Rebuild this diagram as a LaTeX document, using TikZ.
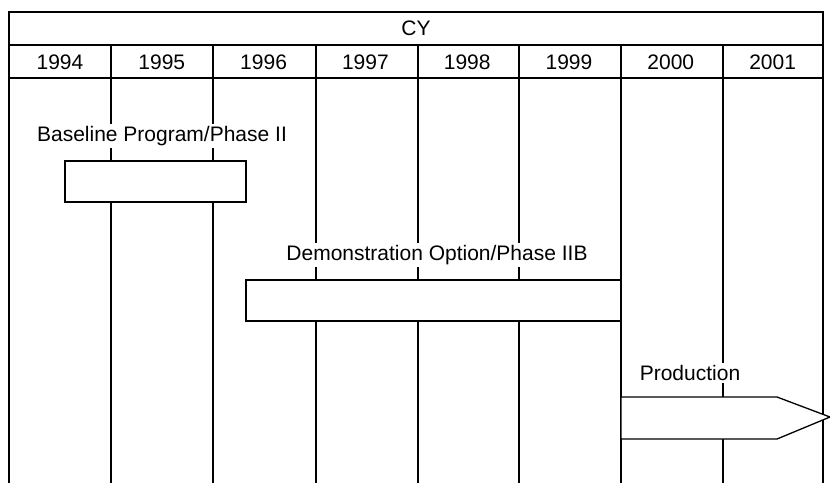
\documentclass[tikz,border=0pt]{standalone}
\usepackage{fontspec}
\setmainfont{Liberation Sans}
\begin{document}
\begin{tikzpicture}[x=1pt,y=-1pt,
  txt/.style={font=\fontsize{21}{24}\selectfont, inner sep=1pt},
  lbl/.style={txt, fill=white, inner sep=2pt},
  grid/.style={line width=1.2pt},
  frame/.style={line width=2pt},
  bar/.style={draw, fill=white, line width=1.3pt}]
\useasboundingbox (0,0) rectangle (830,483);
% vertical lines
\foreach \x in {111,213,316,418,519,621,723} \draw[grid] (\x,45) -- (\x,483);
\draw[frame] (9,483) -- (9,12) -- (823,12) -- (823,483);
\draw[frame] (9,45) -- (823,45);
\draw[frame] (9,78) -- (823,78);
% header texts
\node[txt] (cy) at (416,28.5) {CY};
\foreach \y [count=\i from 0] in {1994,1995,1996,1997,1998,1999,2000,2001}
  \node[txt] (y\y) at (60+\i*101.8,62) {\y};
% bars
\node[lbl] (l1) at (162,136) {Baseline Program/Phase II};
\draw[bar] (65,161) rectangle (246,202);
\node[lbl] (l2) at (437,255) {Demonstration Option/Phase IIB};
\draw[bar] (246,280) rectangle (621,321);
\node[lbl] (l3) at (690,373) {Production};
\draw[bar] (621,397) -- (777,397) -- (830,417) -- (777,439) -- (621,439) -- cycle;
\end{tikzpicture}
\end{document}
